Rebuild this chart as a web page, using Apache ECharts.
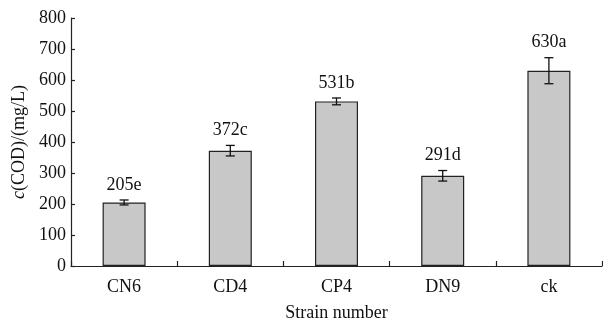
<!DOCTYPE html>
<html>
<head>
<meta charset="utf-8">
<script src="https://cdn.jsdelivr.net/npm/echarts@6/dist/echarts.min.js"></script>
<style>html,body{margin:0;padding:0;background:#fff;}#c{width:603px;height:323px;}</style>
</head>
<body>
<div id="c"></div>
<script>
var categories = ['CN6', 'CD4', 'CP4', 'DN9', 'ck'];
var values = [205, 372, 531, 291, 630];
var errors = [8, 17, 11, 17, 42];
var letters = ['e', 'c', 'b', 'd', 'a'];
var yTicks = [0, 100, 200, 300, 400, 500, 600, 700, 800];

var FONT = '"Liberation Serif", "Times New Roman", serif';
var FS = 18;
var chart = echarts.init(document.getElementById('c'), null, {renderer: 'canvas'});

var errData = values.map(function (v, i) { return [i, v, errors[i], v + letters[i]]; });

chart.setOption({
  animation: false,
  backgroundColor: '#fff',
  grid: {left: 71, right: 1, top: 18, bottom: 57, containLabel: false, outerBoundsMode: 'none'},
  xAxis: {
    type: 'category',
    data: categories,
    boundaryGap: true,
    name: 'Strain number',
    nameLocation: 'middle',
    nameGap: 38,
    nameTextStyle: {fontFamily: FONT, fontSize: FS, color: '#111'},
    axisLine: {show: true, lineStyle: {color: '#222', width: 1.2}},
    axisTick: {show: true, inside: true, length: 5, alignWithLabel: false, lineStyle: {color: '#222', width: 1.2}},
    axisLabel: {fontFamily: FONT, fontSize: FS, color: '#111', margin: 12}
  },
  yAxis: {
    type: 'value',
    min: yTicks[0],
    max: yTicks[yTicks.length - 1],
    interval: 100,
    name: '{i|c}{n|(COD)/(mg/L)}',
    nameLocation: 'middle',
    nameRotate: 90,
    nameGap: 29,
    nameTextStyle: {
      fontFamily: FONT, fontSize: FS, color: '#111',
      rich: {
        i: {fontFamily: FONT, fontSize: FS, fontStyle: 'italic', color: '#111'},
        n: {fontFamily: FONT, fontSize: FS, color: '#111'}
      }
    },
    splitLine: {show: false},
    axisLine: {show: true, lineStyle: {color: '#222', width: 1.2}},
    axisTick: {show: true, inside: true, length: 4, lineStyle: {color: '#222', width: 1.2}},
    axisLabel: {fontFamily: FONT, fontSize: FS, color: '#111', margin: 5}
  },
  series: [
    {
      type: 'bar',
      data: values,
      barWidth: 43,
      itemStyle: {color: '#c8c8c8', borderColor: '#222', borderWidth: 1.2}
    },
    {
      type: 'custom',
      data: errData,
      z: 10,
      renderItem: function (params, api) {
        var x = api.value(0), v = api.value(1), e = api.value(2);
        var top = api.coord([x, v + e]);
        var bot = api.coord([x, v - e]);
        var hw = 4.5;
        var st = {stroke: '#111', lineWidth: 1.3};
        return {
          type: 'group',
          children: [
            {type: 'line', shape: {x1: top[0], y1: top[1], x2: bot[0], y2: bot[1]}, style: st},
            {type: 'line', shape: {x1: top[0] - hw, y1: top[1], x2: top[0] + hw, y2: top[1]}, style: st},
            {type: 'line', shape: {x1: bot[0] - hw, y1: bot[1], x2: bot[0] + hw, y2: bot[1]}, style: st},
            {type: 'text', x: top[0], y: top[1] - 6,
              style: {text: api.value(3), fontFamily: FONT, fontSize: FS, fill: '#111', align: 'center', verticalAlign: 'bottom'}}
          ]
        };
      }
    }
  ]
});
</script>
</body>
</html>
